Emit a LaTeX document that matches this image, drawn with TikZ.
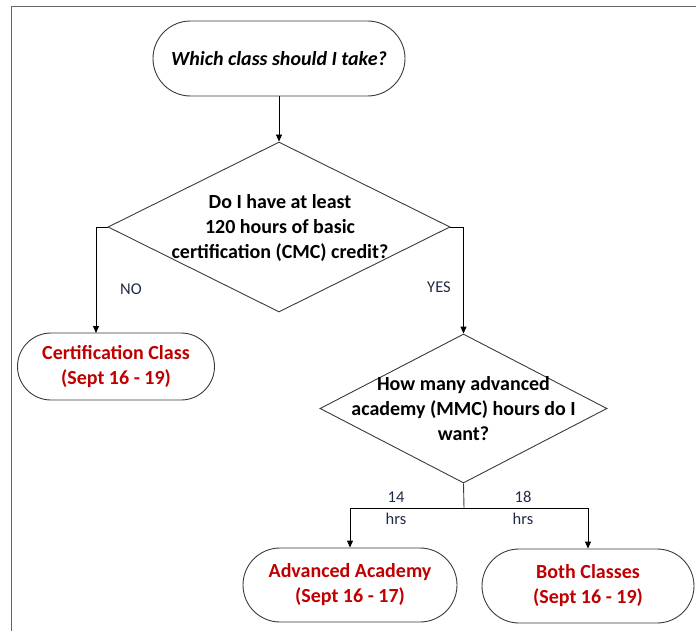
\documentclass[tikz,border=0pt]{standalone}
\usepackage{fontspec}
\setmainfont{Carlito}
\usetikzlibrary{shapes.misc,shapes.geometric,arrows.meta}
\definecolor{darkred}{HTML}{C00000}
\definecolor{lblue}{HTML}{1F2A44}
\definecolor{lgray}{HTML}{3A3A3A}
\tikzset{
  term/.style={draw=lgray, line width=0.9pt, rounded rectangle, inner sep=0pt, align=center},
  decis/.style={draw=lgray, line width=0.9pt, diamond, inner sep=0pt},
  dtext/.style={align=center, font=\fontsize{20}{25}\selectfont\bfseries, text=black},
  rtext/.style={font=\fontsize{20}{25}\selectfont\bfseries, text=darkred},
  lbl/.style={font=\fontsize{16.5}{18}\selectfont, text=lblue, inner sep=0pt},
  arr/.style={draw=black, line width=0.9pt, -{Triangle[length=7pt,width=6pt]}},
  ln/.style={draw=lgray, line width=0.9pt},
}
\begin{document}
\begin{tikzpicture}[x=1pt,y=-1pt]
\useasboundingbox (0,0) rectangle (696,631);
% frame
\coordinate (fa) at (696,7);
\coordinate (fb) at (11,7);
\coordinate (fc) at (11,631);
\draw[draw=gray!80!black, line width=1pt] (fa) -- (fb) -- (fc);

\node[term, minimum width=252pt, minimum height=75pt, font=\fontsize{20}{25}\selectfont\bfseries\itshape] (start) at (279,58.5) {Which class should I take?};

\node[decis, minimum width=342pt, minimum height=170pt] (d1) at (279,227) {};
\node[dtext] (d1t) at (280,228) {Do I have at least\\120 hours of basic\\certification (CMC) credit?};

\node[term, minimum width=197pt, minimum height=67pt, rtext] (cert) at (116,366.5) {Certification Class\\(Sept 16 - 19)};

\node[decis, minimum width=287pt, minimum height=149pt] (d2) at (463.5,408.5) {};
\node[dtext] (d2t) at (463.5,409) {How many advanced\\academy (MMC) hours do I\\want?};

\node[term, minimum width=214pt, minimum height=74pt, rtext] (adv) at (350,585) {Advanced Academy\\(Sept 16 - 17)};
\node[term, minimum width=212pt, minimum height=74pt, rtext] (both) at (588,586) {Both Classes\\(Sept 16 - 19)};

\node[lbl] (no) at (131,289) {NO};
\node[lbl] (yes) at (439,287) {YES};
\node[lbl] (l14) at (396,497) {14};
\node[lbl] (h14) at (396,519) {hrs};
\node[lbl] (l18) at (523,497) {18};
\node[lbl] (h18) at (523,519) {hrs};

\coordinate (split) at (464,508);
\coordinate (certin) at (96,333);

\draw[arr] (start.south) -- (d1.north);
\draw[arr] (d1.west) -| (certin);
\draw[arr] (d1.east) -| (d2.north);
\draw[ln] (d2.south) -- (split);
\draw[arr] (split) -| (adv.north);
\draw[arr] (split) -| (both.north);
\end{tikzpicture}
\end{document}
